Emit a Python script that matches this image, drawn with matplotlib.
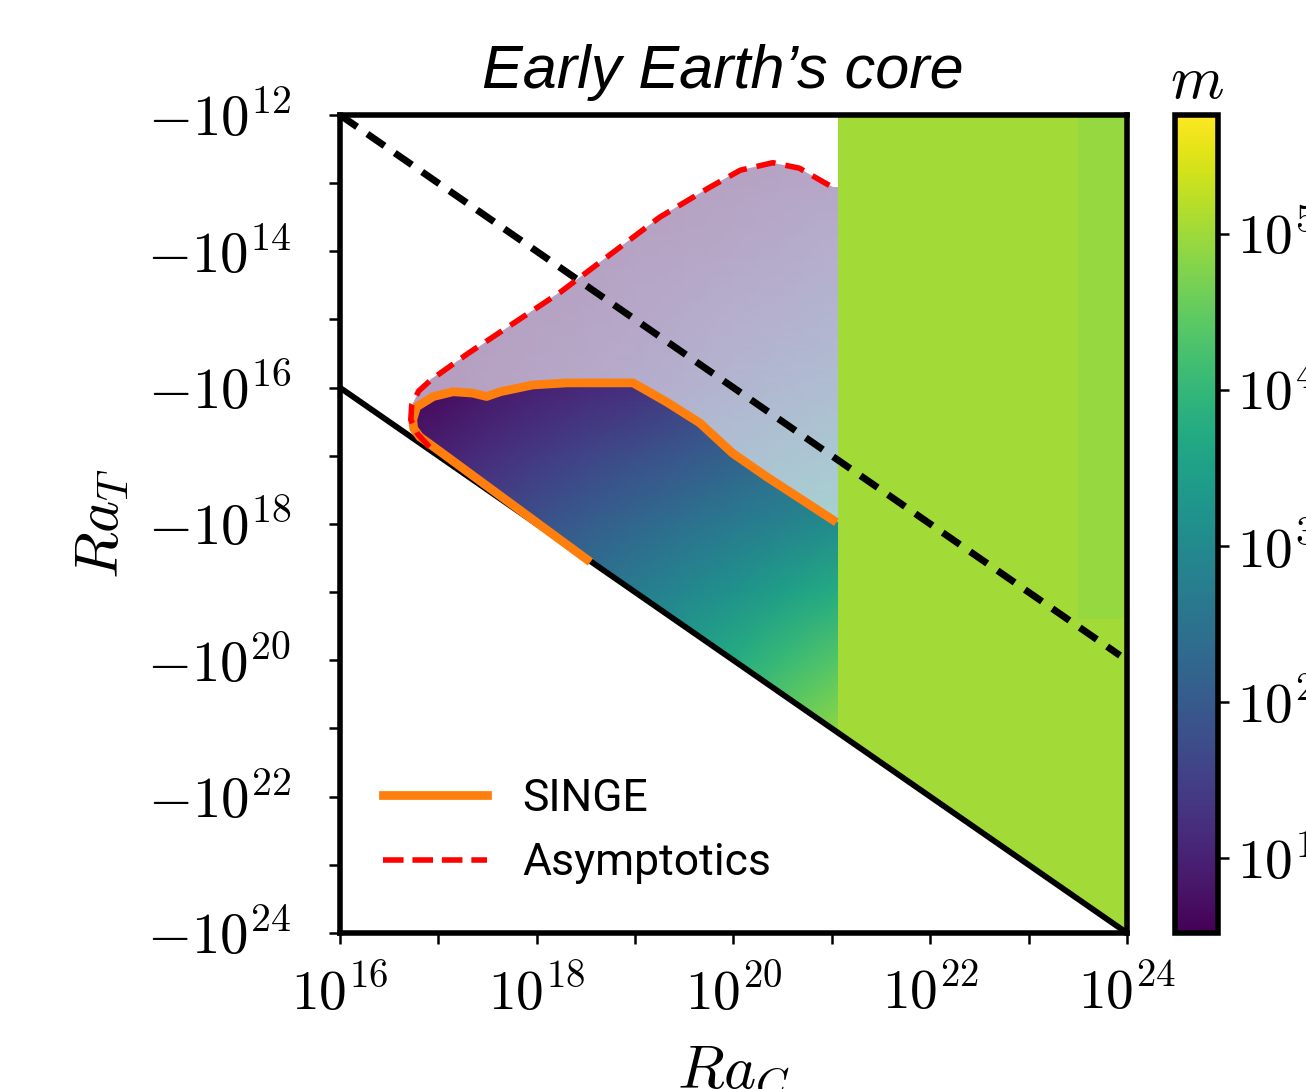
import numpy as np
import matplotlib
matplotlib.use('Agg')
import matplotlib.pyplot as plt
from matplotlib.colors import LogNorm, ListedColormap
from matplotlib.patches import Polygon
from matplotlib.lines import Line2D
import matplotlib.cm as cm

plt.rcParams['mathtext.fontset'] = 'cm'

# ---------------- data (log10 exponents) ----------------
# SINGE curve (orange), RaC exponent / |RaT| exponent (RaT is negative)
singe_log_rac = [18.51, 17.02, 16.81, 16.75, 16.74, 16.78, 16.95, 17.15, 17.35, 17.49,
                 17.63, 17.96, 18.31, 18.98, 19.32, 19.66, 19.99, 20.34, 20.67, 21.01]
singe_log_rat = [18.52, 16.94, 16.72, 16.60, 16.47, 16.28, 16.13, 16.06, 16.08, 16.13,
                 16.06, 15.96, 15.93, 15.93, 16.21, 16.52, 16.96, 17.31, 17.62, 17.94]

# Asymptotics curve (red dashed)
asym_log_rac = [16.91, 16.79, 16.72, 16.73, 16.80, 16.93, 17.30, 18.24, 19.25, 19.76,
                20.07, 20.40, 20.67, 20.91, 21.01]
asym_log_rat = [16.87, 16.68, 16.47, 16.25, 16.05, 15.88, 15.50, 14.60, 13.50, 13.06,
                12.81, 12.70, 12.78, 12.98, 13.06]

# lower boundary RaT = -RaC (solid black) and dashed black line
bound_log_rac = [16.0, 24.0]
bound_log_rat = [16.0, 24.0]
dash_log_rac = [16.0, 23.93]
dash_log_rat = [12.0, 19.93]

# colour field log10(m) on a coarse grid (left part, RaC < 10^21.06)
field_log_rac = [16.5, 17.0, 17.5, 18.0, 18.5, 19.0, 19.5, 20.0, 20.5, 21.06]
field_log_rat = [12, 13, 14, 15, 16, 17, 18, 19, 20, 21, 22]
field_log_m = [
    [0.70, 0.70, 0.70, 0.70, 0.70, 0.70, 0.70, 0.72, 0.76, 0.82],
    [0.70, 0.70, 0.70, 0.70, 0.72, 0.76, 0.82, 0.88, 0.96, 1.05],
    [0.70, 0.70, 0.72, 0.76, 0.82, 0.90, 0.98, 1.08, 1.20, 1.35],
    [0.70, 0.72, 0.76, 0.85, 0.95, 1.05, 1.20, 1.35, 1.50, 1.65],
    [0.65, 0.68, 0.85, 1.00, 1.12, 1.25, 1.45, 1.65, 1.85, 2.05],
    [0.80, 1.00, 1.20, 1.40, 1.60, 1.78, 1.95, 2.15, 2.35, 2.55],
    [1.20, 1.40, 1.60, 1.85, 2.05, 2.25, 2.45, 2.65, 2.85, 3.05],
    [1.65, 1.86, 2.07, 2.28, 2.49, 2.72, 2.95, 3.20, 3.45, 3.75],
    [2.10, 2.30, 2.50, 2.70, 2.95, 3.20, 3.45, 3.75, 4.05, 4.35],
    [2.50, 2.70, 2.90, 3.10, 3.35, 3.60, 3.90, 4.20, 4.55, 4.85],
    [2.90, 3.10, 3.30, 3.50, 3.75, 4.00, 4.30, 4.60, 4.85, 5.00],
]

# right part (RaC > 10^21.06): nearly uniform green
green_log_rac_edges = [21.06, 23.5, 24.0]
green_log_rat_edges = [12.0, 19.4, 24.0]
green_log_m = [[5.03, 4.93],
               [5.03, 5.03]]

x_major_exp = [16, 18, 20, 22, 24]
x_minor_exp = [17, 19, 21, 23]
y_major_exp = [12, 14, 16, 18, 20, 22, 24]
y_minor_exp = [13, 15, 17, 19, 21, 23]
cbar_exp = [1, 2, 3, 4, 5]
m_min_exp, m_max_exp = 0.52, 5.76

# ---------------- figure ----------------
fig = plt.figure(figsize=(13.06, 10.89), dpi=100)
ax = fig.add_axes([0.2603, 0.1433, 0.6026, 0.7511])
cax = fig.add_axes([0.8997, 0.1433, 0.0329, 0.7511])

ax.set_xscale('log')
ax.set_yscale('log')
ax.set_xlim(1e16, 1e24)
ax.set_ylim(1e24, 1e12)

norm = LogNorm(10 ** m_min_exp, 10 ** m_max_exp)
cmap = plt.get_cmap('viridis')
base = cmap(np.linspace(0, 1, 256))
light = base.copy()
light[:, :3] = 0.4 * base[:, :3] + 0.6
light_cmap = ListedColormap(light)

p = lambda v: 10.0 ** np.asarray(v, dtype=float)

X, Y = np.meshgrid(p(field_log_rac), p(field_log_rat))
M = p(field_log_m)

# region enclosed by the asymptotic curve (light)
light_pts = list(zip(asym_log_rac, asym_log_rat)) + [(21.06, 13.06), (21.06, 21.06), (16.91, 16.91)]
light_poly = Polygon([(10 ** a, 10 ** b) for a, b in light_pts], closed=True,
                     transform=ax.transData)
mesh_l = ax.pcolormesh(X, Y, M, shading='gouraud', cmap=light_cmap, norm=norm, zorder=1)
mesh_l.set_clip_path(light_poly)

# region enclosed by SINGE (full colour)
full_pts = list(zip(singe_log_rac, singe_log_rat)) + [(21.06, 17.97), (21.06, 21.06)]
full_poly = Polygon([(10 ** a, 10 ** b) for a, b in full_pts], closed=True,
                    transform=ax.transData)
mesh_f = ax.pcolormesh(X, Y, M, shading='gouraud', cmap=cmap, norm=norm, zorder=1.5)
mesh_f.set_clip_path(full_poly)

# green part
green_pts = [(21.06, 12.0), (24.0, 12.0), (24.0, 24.0), (21.06, 21.06)]
green_poly = Polygon([(10 ** a, 10 ** b) for a, b in green_pts], closed=True,
                     transform=ax.transData)
mesh_g = ax.pcolormesh(p(green_log_rac_edges), p(green_log_rat_edges), p(green_log_m),
                       shading='flat', cmap=cmap, norm=norm, zorder=1.2)
mesh_g.set_clip_path(green_poly)

# lines
ax.plot(p(bound_log_rac), p(bound_log_rat), color='black', lw=4.2, zorder=3,
        solid_capstyle='butt')
ax.plot(p(dash_log_rac), p(dash_log_rat), color='black', lw=5.0, ls=(0, (3.0, 1.8)),
        zorder=3)
ax.plot(p(singe_log_rac), p(singe_log_rat), color='#ff7f0e', lw=6.3, zorder=4,
        solid_joinstyle='round')
ax.plot(p(asym_log_rac), p(asym_log_rat), color='red', lw=4.0, ls=(0, (3.5, 1.8)),
        zorder=5)

# ticks
ax.set_xticks(p(x_major_exp), [r'$10^{%d}$' % e for e in x_major_exp])
ax.set_xticks(p(x_minor_exp), [''] * len(x_minor_exp), minor=True)
ax.set_yticks(p(y_major_exp), [r'$-10^{%d}$' % e for e in y_major_exp])
ax.set_yticks(p(y_minor_exp), [''] * len(y_minor_exp), minor=True)
ax.tick_params(which='both', direction='out', length=8, width=1.8)
ax.tick_params(axis='x', which='both', pad=16, labelsize=40)
ax.tick_params(axis='y', which='both', pad=27, labelsize=41)
for s in ax.spines.values():
    s.set_linewidth(4.0)

ax.set_xlabel(r'$Ra_C$', fontsize=44)
ax.xaxis.set_label_coords(0.5, -0.133)
ax.set_ylabel(r'$Ra_T$', fontsize=44)
ax.yaxis.set_label_coords(-0.265, 0.5)

# legend
handles = [Line2D([], [], color='#ff7f0e', lw=6.3),
           Line2D([], [], color='red', lw=4.0, ls=(0, (3.7, 1.6)))]
ax.legend(handles, ['SINGE', 'Asymptotics'], loc='lower left', frameon=False,
          prop={'family': 'Roboto', 'size': 32}, handlelength=2.34,
          handletextpad=0.8, labelspacing=0.5, bbox_to_anchor=(0.032, 0.038),
          borderaxespad=0.0)

# title
fig.text(0.5536, 0.919, 'Early Earth\u2019s core', ha='center', va='baseline',
         fontsize=44, style='italic', family='Liberation Sans')

# colorbar
sm = cm.ScalarMappable(norm=norm, cmap=cmap)
cb = fig.colorbar(sm, cax=cax)
cb.set_ticks(p(cbar_exp), labels=[r'$10^{%d}$' % e for e in cbar_exp])
cb.ax.minorticks_off()
cb.outline.set_linewidth(4.0)
cb.ax.tick_params(direction='out', length=8, width=1.8, labelsize=40, pad=6)
cax.set_title(r'$m$', fontsize=44, pad=12)

fig.savefig('out.png', dpi=100)
